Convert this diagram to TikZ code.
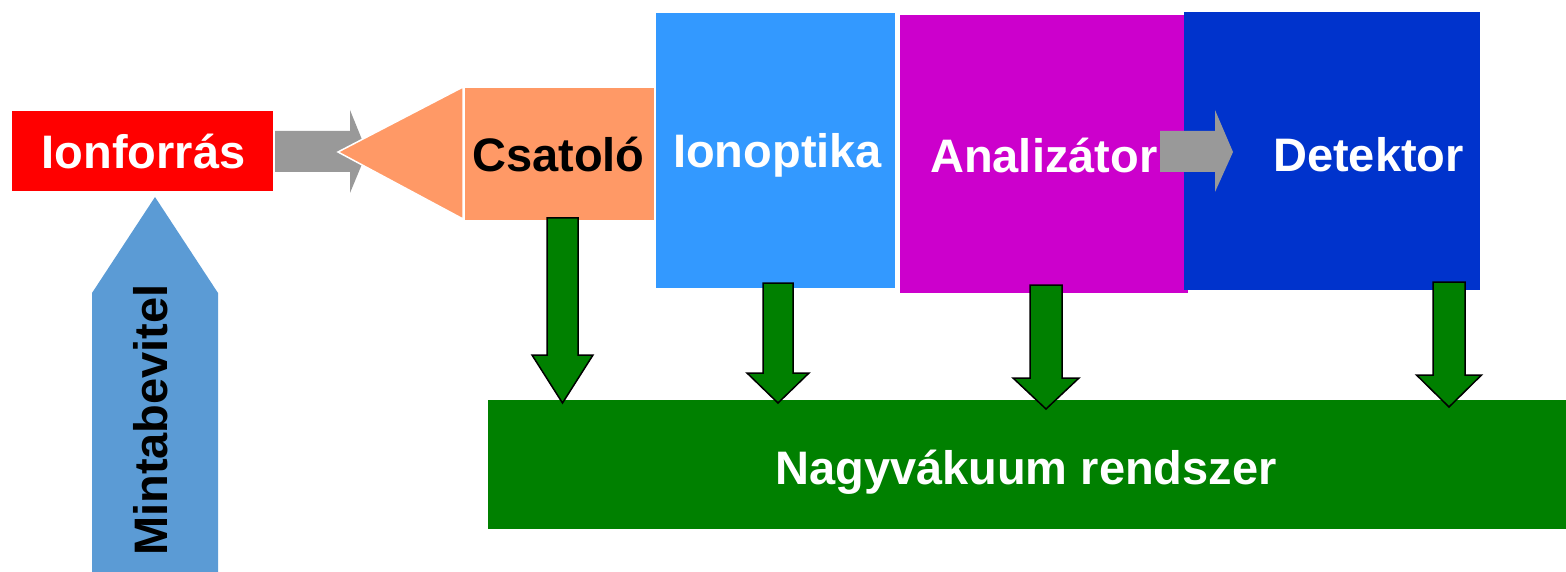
\documentclass[tikz,border=0pt]{standalone}
\usepackage{fontspec}
\setmainfont{Liberation Sans}

\definecolor{srcred}{HTML}{FF0000}
\definecolor{coupler}{HTML}{FF9966}
\definecolor{optblue}{HTML}{3399FF}
\definecolor{anamag}{HTML}{CC00CC}
\definecolor{detblue}{HTML}{0033CC}
\definecolor{vacgreen}{HTML}{008000}
\definecolor{arrowgray}{HTML}{999999}
\definecolor{inletblue}{HTML}{5B9BD5}

\tikzset{
    box/.style={draw=none, inner sep=0pt, outer sep=0pt, anchor=north west},
    lbl/.style={inner sep=0pt, anchor=base, font=\fontsize{47}{56}\selectfont\bfseries},
    grayarrow/.style={fill=arrowgray, draw=none},
    greenarrow/.style={fill=vacgreen, draw=black, line width=1.5pt, line join=miter},
}

\begin{document}
\begin{tikzpicture}[x=1pt, y=-1pt]
        \useasboundingbox (0, 0) rectangle (1566, 572);

        % ion source and coupler
        \node[box, fill=srcred, minimum width=261pt, minimum height=80pt] (ionforras) at (12, 111) {};
        \node[lbl, text=white] (ionforrastxt) at (143.5, 169) {Ionforrás};
        \fill[grayarrow] (275, 131) -- (350, 131) -- (350, 110) -- (367, 152) -- (350, 193) -- (350, 172) -- (275, 172) -- cycle;
        \filldraw[fill=coupler, draw=white, line width=1.5pt] (338, 152) -- (463, 87) -- (463, 219) -- cycle;
        \node[box, fill=coupler, minimum width=189pt, minimum height=132pt] (csatolo) at (465, 88) {};
        \node[lbl] (csatolotxt) at (558.5, 172) {Csatoló};

        % main stages
        \node[box, fill=optblue, minimum width=239pt, minimum height=275pt] (ionoptika) at (656, 13) {};
        \node[lbl, text=white] (ionoptikatxt) at (777.5, 168) {Ionoptika};
        \node[box, fill=anamag, minimum width=288pt, minimum height=278pt] (analizator) at (900, 15) {};
        \node[lbl, text=white, anchor=base west] (analizatortxt) at (930, 173) {Analizátor};
        \node[box, fill=detblue, minimum width=296pt, minimum height=278pt] (detektor) at (1184, 12) {};
        \node[lbl, text=white] (detektortxt) at (1368.5, 172) {Detektor};
        \fill[grayarrow] (1160, 131) -- (1215, 131) -- (1215, 110) -- (1233, 152) -- (1215, 192) -- (1215, 172) -- (1160, 172) -- cycle;

        % vacuum system
        \node[box, fill=vacgreen, minimum width=1078pt, minimum height=129pt] (vakuum) at (488, 400) {};
        \node[lbl, text=white] (vakuumtxt) at (1026, 484) {Nagyvákuum rendszer};
        \foreach \x/\top/\neck/\tip/\sw/\hw in {562.5/218/355/403/15.5/30.5, 778/283/373/403/15/31, 1046/285/378/409/16/33, 1449/282/375/407/16/32.5}
            \draw[greenarrow] (\x-\sw, \top) -- (\x-\sw, \neck) -- (\x-\hw, \neck) -- (\x, \tip) -- (\x+\hw, \neck) -- (\x+\sw, \neck) -- (\x+\sw, \top) -- cycle;

        % sample inlet
        \fill[inletblue] (92, 572) -- (92, 293) -- (155, 197) -- (218, 293) -- (218, 572) -- cycle;
        \node[lbl, rotate=90] (mintatxt) at (167, 420) {Mintabevitel};
    \end{tikzpicture}
\end{document}
